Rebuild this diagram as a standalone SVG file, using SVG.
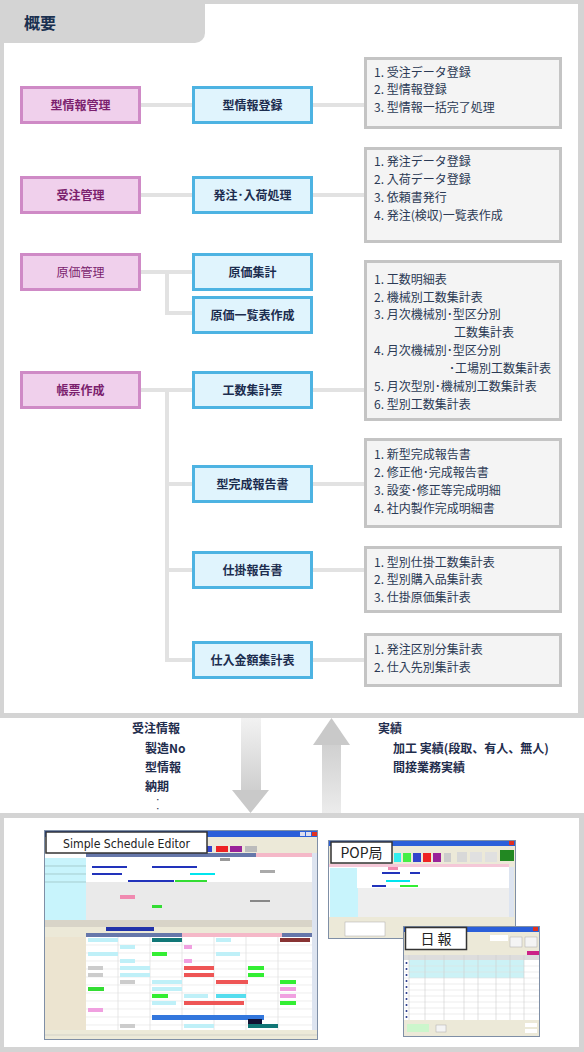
<svg xmlns="http://www.w3.org/2000/svg" width="584" height="1052" viewBox="0 0 584 1052">
<defs>
<style>
.pink{fill:#f0d0ec;stroke:#cf8ac6;stroke-width:3}
.blue{fill:#e0f4fd;stroke:#4db3e2;stroke-width:3}
.list{fill:#f4f4f4;stroke:#c4c4c4;stroke-width:3}
.conn{stroke:#e2e2e2;stroke-width:4;fill:none}
text{font-family:"Noto Sans CJK JP","Noto Sans",sans-serif}
.pt{font-size:12px;font-weight:bold;fill:#7b1f6e;text-anchor:middle}
.bt{font-size:12px;font-weight:bold;fill:#1c2d4f;text-anchor:middle}
.lt{font-size:12px;fill:#2b3a55}
.mt{font-size:12px;font-weight:bold;fill:#1f2d4d}
.lbl{fill:#ffffff;stroke:#333333;stroke-width:1.5}
.lbt{font-family:"DejaVu Sans","Liberation Sans",sans-serif;font-size:13px;fill:#222}
.win{fill:#ece9d8;stroke:#7f8fa6;stroke-width:1}
.tb{fill:#2b5fd9}
</style>
<linearGradient id="gDown" x1="0" y1="0" x2="0" y2="1">
<stop offset="0" stop-color="#f2f2f2"/><stop offset="1" stop-color="#cfcfcf"/>
</linearGradient>
<linearGradient id="gUp" x1="0" y1="0" x2="0" y2="1">
<stop offset="0" stop-color="#d0d0d0"/><stop offset="1" stop-color="#ececec"/>
</linearGradient>
</defs>

<!-- top frame -->
<rect x="0" y="0" width="584" height="718" fill="#d4d4d4"/>
<rect x="4" y="4" width="574" height="709" fill="#ffffff"/>
<path d="M0,0 H205 V33 A10,10 0 0 1 195,43 H0 Z" fill="#d4d4d4"/>
<text x="24" y="29" style="font-size:16px;font-weight:bold;fill:#1a3050">概要</text>

<!-- connectors -->
<g id="connectors">
<path class="conn" d="M141,105 H192 M313,105 H364"/>
<path class="conn" d="M141,195 H192 M313,195 H364"/>
<path class="conn" d="M141,272 H192 M167,272 V313 H192"/>
<path class="conn" d="M141,390 H192 M313,390 H364"/>
<path class="conn" d="M167,390 V660 H192 M167,484 H192 M167,570 H192"/>
<path class="conn" d="M313,484 H364 M313,570 H364 M313,660 H364"/>
</g>

<!-- left nodes -->
<g id="node-katajoho-kanri"><rect class="pink" x="21.5" y="87.5" width="118" height="35"/><text class="pt" x="80.5" y="109.5">型情報管理</text></g>
<g id="node-juchu-kanri"><rect class="pink" x="21.5" y="177.5" width="118" height="35"/><text class="pt" x="80.5" y="199.5">受注管理</text></g>
<g id="node-genka-kanri"><rect class="pink" x="21.5" y="254.5" width="118" height="35"/><text class="pt" x="80.5" y="276.5" style="font-weight:normal">原価管理</text></g>
<g id="node-chohyo-sakusei"><rect class="pink" x="21.5" y="372.5" width="118" height="35"/><text class="pt" x="80.5" y="394.5">帳票作成</text></g>

<!-- middle nodes -->
<g id="node-katajoho-toroku"><rect class="blue" x="193.5" y="87.5" width="118" height="35"/><text class="bt" x="252.5" y="109.5">型情報登録</text></g>
<g id="node-hacchu-nyuka"><rect class="blue" x="193.5" y="177.5" width="118" height="35"/><text class="bt" x="252.5" y="199.5">発注･入荷処理</text></g>
<g id="node-genka-shukei"><rect class="blue" x="193.5" y="254.5" width="118" height="35"/><text class="bt" x="252.5" y="276.5">原価集計</text></g>
<g id="node-genka-ichiran"><rect class="blue" x="193.5" y="297.5" width="118" height="35"/><text class="bt" x="252.5" y="319.5">原価一覧表作成</text></g>
<g id="node-kosu-shukei"><rect class="blue" x="193.5" y="372.5" width="118" height="35"/><text class="bt" x="252.5" y="394.5">工数集計票</text></g>
<g id="node-kata-kansei"><rect class="blue" x="193.5" y="466.5" width="118" height="35"/><text class="bt" x="252.5" y="488.5">型完成報告書</text></g>
<g id="node-shikake"><rect class="blue" x="193.5" y="552.5" width="118" height="35"/><text class="bt" x="252.5" y="574.5">仕掛報告書</text></g>
<g id="node-shiire"><rect class="blue" x="193.5" y="642.5" width="118" height="35"/><text class="bt" x="252.5" y="664.5">仕入金額集計表</text></g>

<!-- list boxes -->
<g id="list-1"><rect class="list" x="365.5" y="58.5" width="195" height="69"/>
<text class="lt" x="374" y="76.5">1. 受注データ登録</text>
<text class="lt" x="374" y="94">2. 型情報登録</text>
<text class="lt" x="374" y="111.5">3. 型情報一括完了処理</text></g>
<g id="list-2"><rect class="list" x="365.5" y="148.5" width="195" height="93"/>
<text class="lt" x="374" y="165.5">1. 発注データ登録</text>
<text class="lt" x="374" y="183.5">2. 入荷データ登録</text>
<text class="lt" x="374" y="201.5">3. 依頼書発行</text>
<text class="lt" x="374" y="219.5">4. 発注(検収)一覧表作成</text></g>
<g id="list-3"><rect class="list" x="365.5" y="261.5" width="195" height="158"/>
<text class="lt" x="374" y="283.5">1. 工数明細表</text>
<text class="lt" x="374" y="301.5">2. 機械別工数集計表</text>
<text class="lt" x="374" y="319">3. 月次機械別･型区分別</text>
<text class="lt" x="454" y="337">工数集計表</text>
<text class="lt" x="374" y="354.5">4. 月次機械別･型区分別</text>
<text class="lt" x="449" y="372.5">･工場別工数集計表</text>
<text class="lt" x="374" y="390.5">5. 月次型別･機械別工数集計表</text>
<text class="lt" x="374" y="408.5">6. 型別工数集計表</text></g>
<g id="list-4"><rect class="list" x="365.5" y="439.5" width="195" height="87"/>
<text class="lt" x="374" y="458.5">1. 新型完成報告書</text>
<text class="lt" x="374" y="476.5">2. 修正他･完成報告書</text>
<text class="lt" x="374" y="495">3. 設変･修正等完成明細</text>
<text class="lt" x="374" y="512.5">4. 社内製作完成明細書</text></g>
<g id="list-5"><rect class="list" x="365.5" y="547.5" width="195" height="64"/>
<text class="lt" x="374" y="566.5">1. 型別仕掛工数集計表</text>
<text class="lt" x="374" y="584">2. 型別購入品集計表</text>
<text class="lt" x="374" y="601.5">3. 仕掛原価集計表</text></g>
<g id="list-6"><rect class="list" x="365.5" y="634.5" width="195" height="51"/>
<text class="lt" x="374" y="653.5">1. 発注区別分集計表</text>
<text class="lt" x="374" y="671.5">2. 仕入先別集計表</text></g>

<!-- data flow -->
<g id="arrow-down"><rect x="241" y="718" width="20" height="72" fill="url(#gDown)"/><polygon points="232,790 269,790 250.5,813" fill="#c9c9c9"/></g>
<g id="arrow-up"><polygon points="313,745 350,745 331.5,718" fill="#c9c9c9"/><rect x="322" y="745" width="19" height="68" fill="url(#gUp)"/></g>
<g id="flow-down-text">
<text class="mt" x="132" y="733">受注情報</text>
<text class="mt" x="145" y="753">製造No</text>
<text class="mt" x="145" y="772">型情報</text>
<text class="mt" x="145" y="791">納期</text>
<text class="mt" x="156" y="802" style="font-size:7px">･</text>
<text class="mt" x="156" y="811" style="font-size:7px">･</text>
</g>
<g id="flow-up-text">
<text class="mt" x="378" y="733">実績</text>
<text class="mt" x="393" y="753">加工 実績(段取、有人、無人)</text>
<text class="mt" x="393" y="772">間接業務実績</text>
</g>

<!-- bottom frame -->
<rect x="0" y="813" width="584" height="239" fill="#d4d4d4"/>
<rect x="4" y="818" width="575" height="229" fill="#ffffff"/>

<!-- screenshot: Simple Schedule Editor -->
<g id="screen-sse">
<rect class="win" x="44.5" y="830.5" width="273" height="209"/>
<rect class="tb" x="45" y="831" width="272" height="6"/>
<rect x="300" y="832" width="5" height="4" fill="#dde"/><rect x="306" y="832" width="5" height="4" fill="#dde"/><rect x="312" y="832" width="5" height="4" fill="#e03020"/>
<rect x="200" y="846" width="12" height="6" fill="#3344cc"/><rect x="216" y="846" width="12" height="6" fill="#ee2222"/><rect x="230" y="846" width="12" height="6" fill="#992299"/><rect x="245" y="846" width="12" height="6" fill="#bbbbbb"/>
<rect x="45" y="853" width="267" height="67" fill="#ffffff"/>
<rect x="86" y="853" width="226" height="4" fill="#6677aa"/>
<rect x="256" y="853" width="56" height="4" fill="#f5b8c8"/>
<rect x="45" y="858" width="41" height="62" fill="#c8f4fc"/>
<path d="M45,866 H86 M45,874 H86 M45,882 H86" stroke="#9bb" stroke-width="0.7"/>
<rect x="86" y="882" width="226" height="38" fill="#eaeaea"/>
<rect x="92" y="866" width="35" height="2" fill="#2233bb"/><rect x="92" y="873" width="30" height="2" fill="#2233bb"/>
<rect x="152" y="866" width="45" height="2" fill="#2233bb"/><rect x="190" y="873" width="25" height="2" fill="#00e5ee"/>
<rect x="128" y="880" width="40" height="2" fill="#2233bb"/><rect x="175" y="880" width="32" height="2" fill="#33dd33"/>
<rect x="152" y="880" width="22" height="2" fill="#2233bb"/>
<rect x="220" y="858" width="10" height="3" fill="#999"/><rect x="260" y="870" width="15" height="3" fill="#aaa"/>
<rect x="120" y="895" width="15" height="4" fill="#f08ab0"/><rect x="152" y="905" width="10" height="3" fill="#33dd33"/><rect x="250" y="900" width="20" height="2" fill="#888"/>
<rect x="45" y="920" width="267" height="7" fill="#d8d4c8"/>
<rect x="45" y="927" width="267" height="6" fill="#ece9d8"/>
<rect x="106" y="927" width="48" height="4" fill="#2233aa"/>
<rect x="86" y="933" width="226" height="4" fill="#6677aa"/><rect x="182" y="933" width="100" height="4" fill="#f5b8c8"/>
<rect x="45" y="937" width="41" height="93" fill="#ece4d0"/>
<rect x="86" y="937" width="226" height="93" fill="#ffffff"/>
<path d="M86,945 H312 M86,953 H312 M86,961 H312 M86,969 H312 M86,977 H312 M86,985 H312 M86,993 H312 M86,1001 H312 M86,1009 H312 M86,1017 H312 M86,1025 H312" stroke="#e6e6e6" stroke-width="0.7"/>
<path d="M118,937 V1030 M150,937 V1030 M182,937 V1030 M214,937 V1030 M246,937 V1030 M278,937 V1030" stroke="#dcdcdc" stroke-width="0.7"/>
<rect x="88" y="938" width="30" height="4" fill="#bff0f8"/><rect x="152" y="938" width="30" height="4" fill="#117777"/><rect x="216" y="938" width="15" height="4" fill="#bff0f8"/><rect x="280" y="938" width="30" height="4" fill="#883333"/>
<rect x="120" y="945" width="15" height="4" fill="#bff0f8"/><rect x="184" y="945" width="8" height="4" fill="#f0a0e0"/>
<rect x="88" y="952" width="30" height="4" fill="#bff0f8"/><rect x="152" y="952" width="15" height="4" fill="#33ee33"/><rect x="216" y="952" width="24" height="4" fill="#bff0f8"/>
<rect x="120" y="959" width="15" height="4" fill="#bff0f8"/><rect x="184" y="959" width="8" height="4" fill="#f0a0e0"/>
<rect x="88" y="966" width="15" height="4" fill="#cccccc"/><rect x="120" y="966" width="30" height="4" fill="#bff0f8"/><rect x="184" y="966" width="30" height="4" fill="#ee5555"/><rect x="248" y="966" width="16" height="4" fill="#33ee33"/>
<rect x="88" y="973" width="15" height="4" fill="#cccccc"/><rect x="120" y="973" width="30" height="4" fill="#bff0f8"/><rect x="184" y="973" width="30" height="4" fill="#ee5555"/><rect x="248" y="973" width="16" height="4" fill="#33ee33"/>
<rect x="120" y="980" width="15" height="4" fill="#cccccc"/><rect x="152" y="980" width="30" height="4" fill="#bff0f8"/><rect x="216" y="980" width="32" height="4" fill="#ee5555"/><rect x="280" y="980" width="16" height="4" fill="#33ee33"/>
<rect x="88" y="987" width="16" height="4" fill="#33dd33"/><rect x="152" y="987" width="30" height="4" fill="#bff0f8"/><rect x="280" y="987" width="16" height="4" fill="#f0a0e0"/>
<rect x="152" y="994" width="16" height="4" fill="#33ee33"/><rect x="184" y="994" width="24" height="4" fill="#bff0f8"/><rect x="216" y="994" width="30" height="4" fill="#55ddee"/><rect x="280" y="994" width="16" height="4" fill="#f0a0e0"/>
<rect x="152" y="1001" width="24" height="4" fill="#bff0f8"/><rect x="184" y="1001" width="60" height="4" fill="#ee5555"/><rect x="280" y="1001" width="16" height="4" fill="#33ee33"/>
<rect x="88" y="1008" width="15" height="4" fill="#f0a0e0"/>
<rect x="152" y="1015" width="112" height="5" fill="#3377dd"/>
<rect x="248" y="1019" width="14" height="6" fill="#111133"/><rect x="248" y="1024" width="30" height="4" fill="#117777"/>
<rect x="120" y="1024" width="15" height="4" fill="#cccccc"/><rect x="184" y="1024" width="30" height="4" fill="#bff0f8"/>
<rect x="312" y="853" width="5" height="177" fill="#dde4f0"/>
<rect x="45" y="1030" width="272" height="9" fill="#ece9d8"/>
<path d="M45,1035 H317" stroke="#bbb" stroke-width="0.5"/>
<rect class="lbl" x="46" y="832" width="161" height="21"/>
<text class="lbt" x="63" y="847.5" textLength="127" lengthAdjust="spacingAndGlyphs">Simple Schedule Editor</text>
</g>

<!-- screenshot: POP局 -->
<g id="screen-pop">
<rect class="win" x="328.5" y="840.5" width="187" height="98"/>
<rect class="tb" x="329" y="841" width="186" height="5"/>
<rect x="509" y="841" width="5" height="4" fill="#e03020"/>
<rect x="394" y="853" width="7" height="9" fill="#33eeee"/><rect x="403" y="853" width="8" height="9" fill="#44ee44"/><rect x="413" y="853" width="8" height="9" fill="#3344cc"/><rect x="423" y="853" width="8" height="9" fill="#ee2222"/><rect x="433" y="853" width="8" height="9" fill="#992299"/><rect x="444" y="853" width="7" height="9" fill="#cccccc"/><rect x="457" y="852" width="10" height="10" fill="#d8d8d8"/><rect x="470" y="852" width="12" height="10" fill="#e0e0e0"/><rect x="485" y="852" width="12" height="10" fill="#e0e0e0"/><rect x="500" y="850" width="14" height="11" fill="#228822"/>
<rect x="329" y="864" width="180" height="3" fill="#f5c8d8"/>
<rect x="329" y="867" width="180" height="50" fill="#ffffff"/>
<rect x="330" y="868" width="27" height="20" fill="#c8f4fc"/>
<rect x="330" y="888" width="28" height="29" fill="#c8f4fc"/>
<rect x="358" y="888" width="151" height="29" fill="#eeeeee"/>
<rect x="382" y="872" width="18" height="2" fill="#2233bb"/><rect x="410" y="872" width="10" height="2" fill="#2233bb"/><rect x="386" y="880" width="24" height="2" fill="#00e5ee"/><rect x="372" y="885" width="14" height="2" fill="#2233bb"/><rect x="400" y="885" width="18" height="2" fill="#33ee33"/><rect x="388" y="867" width="10" height="3" fill="#f08ab0"/>
<rect x="509" y="867" width="5" height="50" fill="#dde4f0"/>
<rect x="329" y="917" width="186" height="21" fill="#ece9d8"/>
<rect x="345" y="922" width="40" height="14" fill="#ffffff" stroke="#aaa" stroke-width="0.5"/>
<rect class="lbl" x="331" y="842" width="61" height="21"/>
<text class="lbt" x="361.5" y="858" style="font-size:14px;text-anchor:middle;font-family:'Noto Sans CJK JP','DejaVu Sans',sans-serif">POP局</text>
</g>

<!-- screenshot: 日報 -->
<g id="screen-nippo">
<rect class="win" x="403.5" y="926.5" width="136" height="110"/>
<rect class="tb" x="404" y="927" width="135" height="5"/>
<rect x="533" y="927" width="5" height="4" fill="#e03020"/>
<rect x="490" y="935" width="18" height="6" fill="#ffffff"/><rect x="510" y="937" width="12" height="10" fill="#f4f4f4" stroke="#aaa" stroke-width="0.5"/><rect x="525" y="937" width="12" height="10" fill="#f4f4f4" stroke="#aaa" stroke-width="0.5"/>
<rect x="527" y="951" width="12" height="4" fill="#cc2288"/>
<rect x="404" y="955" width="135" height="5" fill="#dddddd"/>
<rect x="404" y="960" width="135" height="60" fill="#ffffff"/>
<rect x="409" y="960" width="115" height="18" fill="#ccf2f6"/>
<path d="M404,966 H539 M404,972 H539 M404,978 H539 M404,984 H539 M404,990 H539 M404,996 H539 M404,1002 H539 M404,1008 H539 M404,1014 H539" stroke="#e0e0e0" stroke-width="0.6"/>
<path d="M409,955 V1020 M425,955 V1020 M444,955 V1020 M464,955 V1020 M478,955 V1020 M496,955 V1020 M510,955 V1020 M524,955 V1020" stroke="#cfcfcf" stroke-width="0.6"/>
<g fill="#223388"><circle cx="406.5" cy="963" r="1"/><circle cx="406.5" cy="969" r="1"/><circle cx="406.5" cy="975" r="1"/><circle cx="406.5" cy="981" r="1"/><circle cx="406.5" cy="987" r="1"/><circle cx="406.5" cy="993" r="1"/><circle cx="406.5" cy="999" r="1"/><circle cx="406.5" cy="1005" r="1"/><circle cx="406.5" cy="1011" r="1"/><circle cx="406.5" cy="1017" r="1"/></g>
<rect x="404" y="1020" width="135" height="16" fill="#ece9d8"/>
<rect x="407" y="1024" width="22" height="8" fill="#ccf6cc"/><rect x="436" y="1025" width="10" height="7" fill="#f4f4f4" stroke="#aaa" stroke-width="0.5"/>
<rect x="525" y="1023" width="12" height="4" fill="#ffffff"/><rect x="525" y="1029" width="12" height="4" fill="#ffffff"/>
<rect class="lbl" x="405.5" y="927.5" width="61" height="22"/>
<text class="lbt" x="436" y="944" style="font-size:14px;text-anchor:middle;font-family:'Noto Sans CJK JP',sans-serif">日 報</text>
</g>
</svg>
